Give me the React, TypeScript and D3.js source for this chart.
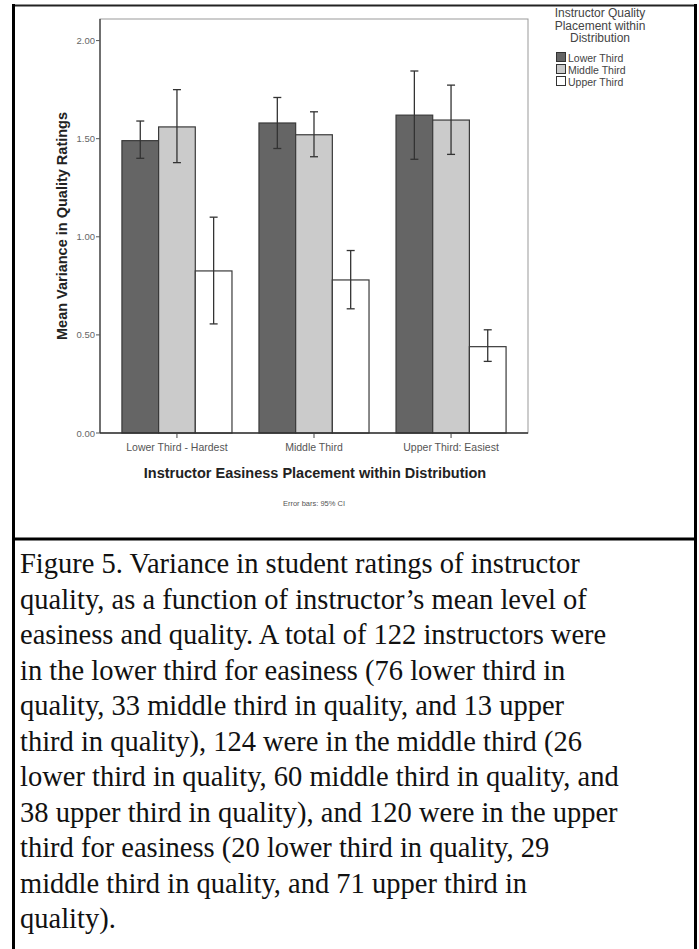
import React from "react";
import * as d3 from "d3";

const categories = ["Lower Third - Hardest", "Middle Third", "Upper Third: Easiest"];
const seriesNames = ["Lower Third", "Middle Third", "Upper Third"];
const seriesColors = ["#656565", "#cbcbcb", "#ffffff"];
const meanLower = [1.49, 1.58, 1.62];
const meanMiddle = [1.56, 1.52, 1.595];
const meanUpper = [0.826, 0.78, 0.44];
const ciLowLower = [1.4, 1.45, 1.395];
const ciLowMiddle = [1.378, 1.408, 1.42];
const ciLowUpper = [0.556, 0.633, 0.365];
const ciHighLower = [1.59, 1.71, 1.845];
const ciHighMiddle = [1.75, 1.637, 1.773];
const ciHighUpper = [1.1, 0.93, 0.526];
const yTicks = [0, 0.5, 1.0, 1.5, 2.0];
const captionLines = [
  "Figure 5. Variance in student ratings of instructor",
  "quality, as a function of instructor\u2019s mean level of",
  "easiness and quality. A total of 122 instructors were",
  "in the lower third for easiness (76 lower third in",
  "quality, 33 middle third in quality, and 13 upper",
  "third in quality), 124 were in the middle third (26",
  "lower third in quality, 60 middle third in quality, and",
  "38 upper third in quality), and 120 were in the upper",
  "third for easiness (20 lower third in quality, 29",
  "middle third in quality, and 71 upper third in",
  "quality).",
];

const means = [meanLower, meanMiddle, meanUpper];
const ciLow = [ciLowLower, ciLowMiddle, ciLowUpper];
const ciHigh = [ciHighLower, ciHighMiddle, ciHighUpper];

export default function App() {
  const W = 699;
  const H = 949;
  const left = 100, right = 528, top = 19, bottom = 433;
  const x = d3.scaleBand<string>().domain(categories).range([left, right]).paddingInner(0.197).paddingOuter(0.16);
  const xs = d3.scaleBand<string>().domain(seriesNames).range([0, x.bandwidth()]).padding(0);
  const y = d3.scaleLinear().domain([0, 2.11]).range([bottom, top]);
  const sans = "'Liberation Sans', Arial, sans-serif";
  const serif = "'Liberation Serif', 'Times New Roman', serif";
  const cap = 4;

  return (
    <svg width={W} height={H} style={{ position: "absolute", left: 0, top: 0, background: "#fff" }}>
      {/* frame */}
      <line x1={13} y1={5.5} x2={696} y2={5.5} stroke="#222" strokeWidth={2} />
      <line x1={13.5} y1={4} x2={13.5} y2={H} stroke="#000" strokeWidth={3} />
      <line x1={695.5} y1={4} x2={695.5} y2={H} stroke="#000" strokeWidth={3} />
      <line x1={13} y1={539} x2={697} y2={539} stroke="#000" strokeWidth={3} />

      {/* plot box */}
      <rect x={left} y={top} width={right - left} height={bottom - top} fill="none" stroke="#999" strokeWidth={1} />

      {/* bars */}
      {categories.map((c, ci) => (
        <g key={c}>
          {seriesNames.map((s, si) => {
            const bx = (x(c) as number) + (xs(s) as number);
            const bw = xs.bandwidth();
            const v = means[si][ci];
            const cx = bx + bw / 2;
            return (
              <g key={s}>
                <rect x={bx} y={y(v)} width={bw} height={y(0) - y(v)} fill={seriesColors[si]} stroke="#3a3a3a" strokeWidth={1.2} />
                <line x1={cx} x2={cx} y1={y(ciLow[si][ci])} y2={y(ciHigh[si][ci])} stroke="#333" strokeWidth={1.3} />
                <line x1={cx - cap} x2={cx + cap} y1={y(ciLow[si][ci])} y2={y(ciLow[si][ci])} stroke="#333" strokeWidth={1.3} />
                <line x1={cx - cap} x2={cx + cap} y1={y(ciHigh[si][ci])} y2={y(ciHigh[si][ci])} stroke="#333" strokeWidth={1.3} />
              </g>
            );
          })}
        </g>
      ))}

      {/* axes */}
      <line x1={left} x2={left} y1={top} y2={bottom} stroke="#333" strokeWidth={1.2} />
      <line x1={left} x2={right} y1={bottom} y2={bottom} stroke="#333" strokeWidth={1.5} />
      {yTicks.map((t) => (
        <g key={t}>
          <line x1={left - 4} x2={left} y1={y(t)} y2={y(t)} stroke="#555" strokeWidth={1} />
          <text x={left - 5} y={y(t) + 3.5} textAnchor="end" fontFamily={sans} fontSize={9.5} fill="#666">
            {t.toFixed(2)}
          </text>
        </g>
      ))}
      {categories.map((c) => {
        const cx = (x(c) as number) + x.bandwidth() / 2;
        return (
          <g key={c}>
            <line x1={cx} x2={cx} y1={bottom} y2={bottom + 5} stroke="#444" strokeWidth={1} />
            <text x={cx} y={451} textAnchor="middle" fontFamily={sans} fontSize={10.5} fill="#555">
              {c}
            </text>
          </g>
        );
      })}
      <text x={315} y={478} textAnchor="middle" fontFamily={sans} fontSize={14.5} fontWeight="bold" fill="#222">
        Instructor Easiness Placement within Distribution
      </text>
      <text x={314} y={506} textAnchor="middle" fontFamily={sans} fontSize={7.5} fill="#555">
        Error bars: 95% CI
      </text>
      <text transform={`translate(67,${(top + bottom) / 2}) rotate(-90)`} textAnchor="middle" fontFamily={sans} fontSize={14.5} fontWeight="bold" fill="#222">
        Mean Variance in Quality Ratings
      </text>

      {/* legend */}
      {["Instructor Quality", "Placement within", "Distribution"].map((l, i) => (
        <text key={l} x={600} y={17 + i * 12.5} textAnchor="middle" fontFamily={sans} fontSize={12} fill="#444">
          {l}
        </text>
      ))}
      {seriesNames.map((s, i) => (
        <g key={s}>
          <rect x={556.5} y={52.5 + i * 12} width={9} height={9} fill={seriesColors[i]} stroke="#333" strokeWidth={1} />
          <text x={568} y={61.5 + i * 12} fontFamily={sans} fontSize={10.5} fill="#444">
            {s}
          </text>
        </g>
      ))}

      {/* caption */}
      {captionLines.map((l, i) => (
        <text key={i} x={20} y={573 + i * 35.5} fontFamily={serif} fontSize={28.5} fill="#111">
          {l}
        </text>
      ))}
    </svg>
  );
}
